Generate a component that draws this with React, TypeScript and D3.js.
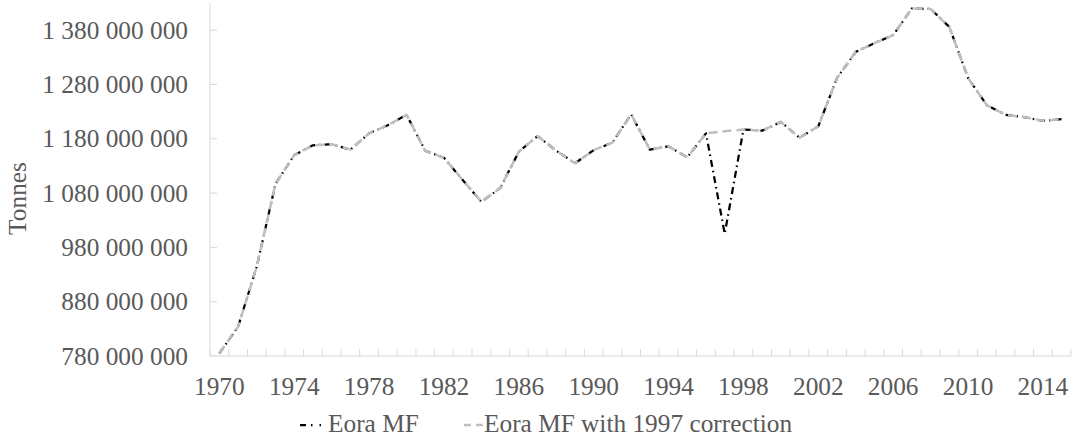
import * as d3 from 'd3';

// values in million tonnes
const years = d3.range(1970, 2016);
const eoraMF = [
  785, 834, 945, 1097, 1150, 1168, 1170, 1160, 1190, 1205,
  1224, 1158, 1145, 1104, 1064, 1089, 1156, 1185, 1158, 1135,
  1159, 1173, 1225, 1160, 1166, 1146, 1190, 1005, 1197, 1195,
  1211, 1182, 1203, 1292, 1340, 1356, 1371, 1420, 1419, 1386,
  1292, 1242, 1224, 1220, 1213, 1216,
];
const eoraCorrected = eoraMF.map((v, i) => (years[i] === 1997 ? 1194 : v));
const yTicks = [780, 880, 980, 1080, 1180, 1280, 1380];
const xLabelYears = d3.range(1970, 2016, 4);

const W = 1072;
const H = 438;
const left = 210;
const right = 1071;
const top = 3;
const bottom = 356;
const textColor = '#595959';
const axisColor = '#D9D9D9';
const fs = 25.33;
const font = '"Liberation Serif", "Times New Roman", serif';

export default function App() {
  const x = d3.scaleBand<number>().domain(years).range([left, right]);
  const y = d3.scaleLinear().domain([780, 1430]).range([bottom, top]);
  const cx = (yr: number) => (x(yr) ?? 0) + x.bandwidth() / 2;

  const line = d3
    .line<number>()
    .x((_, i) => cx(years[i]))
    .y((d) => y(d));

  const boundaries = d3.range(0, years.length + 1).map((i) => left + i * x.step());

  return (
    <svg
      width={W}
      height={H}
      style={{ position: 'absolute', left: 0, top: 0, background: '#fff', fontFamily: font }}
    >
      {/* y axis */}
      <line x1={left} x2={left} y1={top} y2={bottom} stroke={axisColor} />
      {yTicks.map((t) => (
        <g key={t}>
          <line x1={left} x2={left + 7} y1={y(t)} y2={y(t)} stroke={axisColor} />
          <text x={188} y={y(t) + 8.5} textAnchor="end" fontSize={fs} fill={textColor}>
            {d3.format(',')(t * 1e6).replace(/,/g, ' ')}
          </text>
        </g>
      ))}
      <text
        transform={`translate(26,${(top + bottom) / 2 + 19}) rotate(-90)`}
        textAnchor="middle"
        fontSize={fs}
        fill={textColor}
      >
        Tonnes
      </text>

      {/* x axis */}
      <line x1={left} x2={right} y1={bottom} y2={bottom} stroke={axisColor} />
      {boundaries.map((bx, i) => (
        <line key={i} x1={bx} x2={bx} y1={bottom} y2={bottom - 7} stroke={axisColor} />
      ))}
      {xLabelYears.map((yr) => (
        <text key={yr} x={cx(yr)} y={395} textAnchor="middle" fontSize={fs} fill={textColor}>
          {yr}
        </text>
      ))}

      {/* series */}
      <path
        d={line(eoraMF) ?? ''}
        fill="none"
        stroke="#000"
        strokeWidth={2.25}
        strokeDasharray="7 4 1.5 4"
        strokeLinejoin="round"
      />
      <path
        d={line(eoraCorrected) ?? ''}
        fill="none"
        stroke="#BFBFBF"
        strokeWidth={2.5}
        strokeDasharray="9 5"
        strokeLinejoin="round"
      />

      {/* legend */}
      <line x1={300} x2={326} y1={425} y2={425} stroke="#000" strokeWidth={2.25} strokeDasharray="6 5 1.5 7 1.5 10" />
      <text x={328} y={432} fontSize={fs} fill={textColor}>
        Eora MF
      </text>
      <line x1={464} x2={483} y1={425} y2={425} stroke="#BFBFBF" strokeWidth={2.5} strokeDasharray="7 5" />
      <text x={484} y={432} fontSize={fs} fill={textColor}>
        Eora MF with 1997 correction
      </text>
    </svg>
  );
}
